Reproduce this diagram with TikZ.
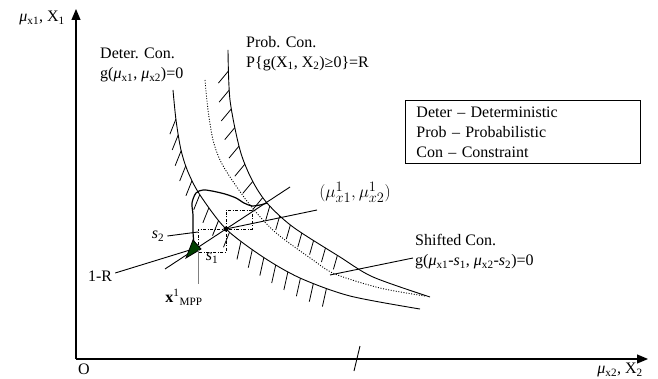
\documentclass[tikz,border=0pt]{standalone}
\usepackage{fontspec}
\setmainfont{Liberation Serif}
\usetikzlibrary{decorations.markings,arrows.meta}
\tikzset{
  axis/.style={line width=1.1pt,-{Triangle[length=11pt,width=9pt]}},
  curve/.style={line width=0.9pt},
  hatch/.style={line width=0.8pt},
  dotcurve/.style={line width=0.9pt,dash pattern=on 1pt off 1.6pt},
  dashbox/.style={line width=0.9pt,dash pattern=on 3pt off 1.5pt on 1pt off 1.5pt},
  pointer/.style={line width=0.9pt},
  lbl/.style={inner sep=0pt},
  lblblock/.style={inner sep=0pt,align=left,anchor=north west},
}
\begin{document}
\begin{tikzpicture}[x=1pt,y=-1pt,font=\fontsize{16}{20}\selectfont]
\useasboundingbox (0,0) rectangle (658,379);
% axes
\coordinate (O) at (76,359);
\coordinate (ytop) at (76,9);
\coordinate (xend) at (648,359);
\draw[axis] (O) -- (ytop);
\draw[axis] (O) -- (xend);
\coordinate (tickA) at (354,371);
\coordinate (tickB) at (360,346);
\draw[line width=0.9pt] (tickA) -- (tickB);
\node[lbl,anchor=east] (ylab) at (65,18) {\textit{μ}\textsubscript{x1}, X\textsubscript{1}};
\node[lbl] (Olab) at (84,369) {O};
\node[lbl,anchor=east] (xlab) at (643,370) {\textit{μ}\textsubscript{x2}, X\textsubscript{2}};
% deterministic constraint
\draw[curve,postaction={decorate,decoration={markings,
   mark=between positions 0.08 and 0.45 step 16pt with {\pgftransformresetnontranslations\draw[hatch] (0,0) -- (-6,15);},
   mark=between positions 0.47 and 0.76 step 14pt with {\pgftransformresetnontranslations\draw[hatch] (0,0) -- (-4,18);}}}]
  plot[smooth] coordinates {(173,90) (176,120) (181,150) (188,172) (200,195) (226,229) (263,257) (300,278) (350,296) (420,309)};
% probabilistic constraint
\draw[curve,postaction={decorate,decoration={markings,
   mark=between positions 0.06 and 0.45 step 19pt with {\pgftransformresetnontranslations\draw[hatch] (0,0) -- (-10,12);},
   mark=between positions 0.47 and 0.74 step 14pt with {\pgftransformresetnontranslations\draw[hatch] (0,0) -- (-4,14);}}}]
  plot[smooth] coordinates {(228,50) (230,100) (240,150) (252,180) (267,203) (293,227) (340,257) (373,277) (430,297)};
% shifted constraint (dotted)
\draw[dotcurve] plot[smooth] coordinates {(205,80) (208,110) (213,140) (220,160) (230,177) (250,205) (275,232) (313,260) (335,274) (380,288) (425,296)};
% labels of constraints
\node[lblblock] (deter) at (100,48) {Deter. Con.\\g(\textit{μ}\textsubscript{x1}, \textit{μ}\textsubscript{x2})=0};
\node[lblblock] (prob) at (246,36) {Prob. Con.\\P\{g(X\textsubscript{1}, X\textsubscript{2})≥0\}=R};
\node[draw,line width=0.9pt,anchor=north west,align=left,inner xsep=11pt,inner ysep=6pt,text width=213pt] (legend) at (405,100) {Deter -- Deterministic\\Prob -- Probabilistic\\Con -- Constraint};
\node[lblblock] (shift) at (415,234) {Shifted Con.\\g(\textit{μ}\textsubscript{x1}-\textit{s}\textsubscript{1}, \textit{μ}\textsubscript{x2}-\textit{s}\textsubscript{2})=0};
\node[lbl,font=\fontsize{19}{20}\selectfont] (mulab) at (355,192) {$(\mu^{1}_{x1},\mu^{1}_{x2})$};
\node[lbl] (onemr) at (100,276) {1-R};
\node[lbl] (s2lab) at (158,236) {\textit{s}\textsubscript{2}};
\node[lbl] (s1lab) at (212,258) {\textit{s}\textsubscript{1}};
\node[lbl] (xmpp) at (184,297) {\textbf{x}\textsuperscript{1}\textsubscript{MPP}};
% key points
\coordinate (mu) at (226,229);
\coordinate (mpp) at (198,252);
\coordinate (lineA) at (165,269);
\coordinate (lineB) at (290,187);
% wavy contour
\draw[line width=1.2pt] plot[smooth,tension=0.5] coordinates {(194,244) (193,232) (193,215) (192,203) (196,193) (203,190) (212,191) (225,194) (236,198) (244,203) (252,206) (260,205) (267,203)};
% dash-dot boxes
\draw[dashbox] (mu) rectangle (252,210);
\draw[dashbox] (mpp) rectangle (mu);
% line through MPP and mu
\draw[pointer] (lineA) -- (lineB);
% green triangle
\coordinate (triA) at (186,258);
\coordinate (triB) at (193,240);
\coordinate (triC) at (201,249);
\filldraw[fill=green!25!black,draw=black,line width=0.8pt] (triA) -- (triB) -- (triC) -- cycle;
\fill (mu) circle (2.6pt);
% pointers
\coordinate (muend) at (317,210);
\draw[pointer] (mu) -- (muend);
\coordinate (shiftA) at (330,275);
\coordinate (shiftB) at (413,258);
\draw[pointer] (shiftA) -- (shiftB);
\coordinate (tri) at (190,250);
\draw[pointer] (onemr.east) ++(3,-3) coordinate (onemrend) -- (tri);
\coordinate (s2end) at (198,232);
\draw[pointer] (s2lab.east) ++(3,0) coordinate (s2start) -- (s2end);
\coordinate (xmppA) at (198,250);
\coordinate (xmppB) at (198,284);
\draw[line width=1pt,gray] (xmppA) -- (xmppB);
\end{tikzpicture}
\end{document}
